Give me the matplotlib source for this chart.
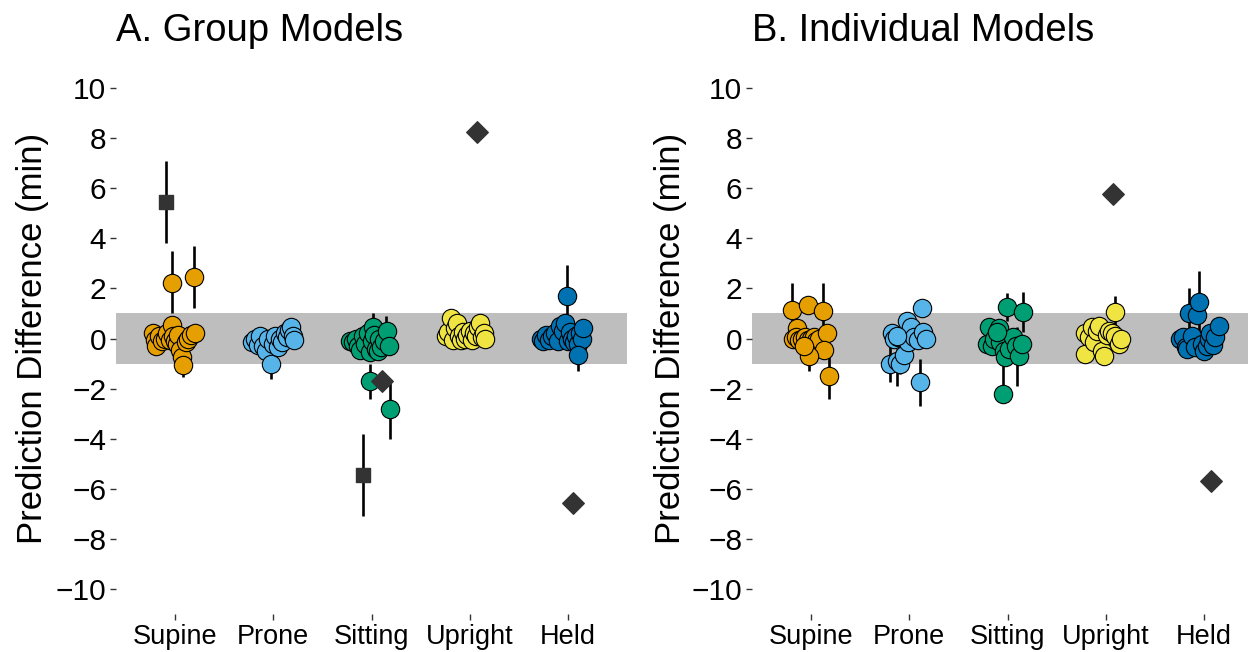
import numpy as np
import matplotlib.pyplot as plt

plt.rcParams['font.family'] = ['Liberation Sans', 'DejaVu Sans']

positions = ['Supine', 'Prone', 'Sitting', 'Upright', 'Held']
pos_colors = ['#E69F00', '#56B4E9', '#009E73', '#F0E442', '#0072B2']

# A. group models - one circle per participant (horizontal jitter, difference in min)
group_jitter = [
    [-0.22, -0.20, -0.19, -0.16, -0.13, -0.10, -0.08, -0.05, -0.03, -0.02, 0.00, 0.02, 0.03, 0.05, 0.07, 0.08, 0.11, 0.13, 0.16, 0.20, -0.03, 0.19],
    [-0.22, -0.19, -0.16, -0.13, -0.10, -0.07, -0.05, -0.02, 0.00, 0.02, 0.05, 0.07, 0.09, 0.12, 0.14, 0.16, 0.18, 0.20, 0.21],
    [-0.22, -0.19, -0.16, -0.14, -0.12, -0.09, -0.07, -0.04, -0.02, 0.00, 0.02, 0.03, 0.05, 0.07, 0.08, 0.10, 0.13, 0.16, 0.18, -0.02, 0.19],
    [-0.24, -0.22, -0.19, -0.17, -0.15, -0.13, -0.11, -0.09, -0.07, -0.05, -0.03, 0.00, 0.02, 0.04, 0.06, 0.08, 0.10, 0.12, 0.14, 0.16],
    [-0.28, -0.25, -0.22, -0.19, -0.16, -0.13, -0.10, -0.08, -0.05, -0.03, 0.00, 0.02, 0.04, 0.06, 0.08, 0.10, 0.12, 0.14, 0.15, 0.10, -0.01],
]
group_diff = [
    [0.2, -0.05, -0.3, 0.1, -0.1, 0.0, 0.2, -0.05, 0.55, 0.1, -0.1, -0.2, 0.15, -0.45, -0.75, -1.05, -0.15, 0.0, 0.15, 0.2, 2.2, 2.45],
    [-0.15, 0.0, -0.25, 0.1, -0.3, -0.5, 0.0, -1.0, -0.2, 0.1, -0.35, 0.0, -0.15, 0.2, 0.05, 0.35, 0.45, 0.1, -0.05],
    [-0.1, -0.15, 0.0, -0.3, -0.45, 0.1, -0.2, 0.2, -0.55, -0.1, 0.45, 0.15, -0.4, -0.5, 0.0, -0.35, -0.1, 0.3, -0.3, -1.7, -2.8],
    [0.1, 0.25, 0.8, -0.05, 0.4, 0.6, 0.1, -0.05, 0.25, 0.0, 0.15, 0.3, -0.05, 0.2, 0.1, 0.45, 0.6, 0.05, 0.2, 0.0],
    [0.0, -0.1, 0.15, -0.05, 0.1, 0.2, -0.1, 0.5, 0.3, 0.6, -0.1, 0.25, 0.0, -0.15, 0.1, -0.2, 0.2, 0.0, 0.4, -0.65, 1.7],
]
# visible error bars
group_bar_cat = [1, 1, 1, 2, 3, 3, 3, 3, 4, 4, 5, 5]
group_bar_jit = [-0.03, 0.19, 0.08, -0.02, -0.02, 0.19, 0.02, 0.15, -0.19, 0.10, -0.01, 0.10]
group_bar_lo = [1.0, 1.2, -1.55, -1.6, -2.4, -4.0, 0.0, 0.0, 0.5, 0.3, 0.6, -1.3]
group_bar_hi = [3.5, 3.7, -0.5, -0.5, -1.0, -1.7, 1.0, 0.9, 1.15, 0.9, 2.95, -0.3]
# squares with error bars
group_sq_cat = [1, 3]
group_sq_jit = [-0.09, -0.09]
group_sq_val = [5.45, -5.45]
group_sq_lo = [3.8, -7.1]
group_sq_hi = [7.1, -3.8]
# diamonds
group_dm_cat = [3, 4, 5]
group_dm_jit = [0.11, 0.07, 0.05]
group_dm_val = [-1.7, 8.25, -6.55]

# B. individual models
indiv_jitter = [
    [-0.19, -0.03, 0.12, -0.14, -0.18, -0.15, -0.12, -0.09, -0.06, -0.03, 0.00, 0.03, 0.05, 0.08, 0.16, 0.13, -0.02, 0.18, -0.07],
    [-0.20, -0.18, -0.16, -0.13, -0.11, -0.09, -0.06, -0.05, -0.02, -0.01, 0.02, 0.05, 0.09, 0.11, 0.13, 0.14, 0.17, -0.13],
    [-0.21, -0.19, -0.16, -0.14, -0.09, -0.08, -0.04, -0.03, 0.01, 0.06, 0.09, 0.12, 0.15, -0.01, 0.16, -0.05, -0.11],
    [-0.21, -0.21, -0.17, -0.14, -0.12, -0.09, -0.07, -0.04, -0.02, 0.01, 0.03, 0.06, 0.09, 0.13, 0.15, 0.09],
    [-0.25, -0.22, -0.19, -0.17, -0.15, -0.12, -0.09, -0.07, -0.05, -0.02, 0.00, 0.03, 0.05, 0.06, 0.09, 0.11, 0.15],
]
indiv_diff = [
    [1.15, 1.35, 1.1, 0.4, 0.0, 0.05, -0.05, 0.0, 0.05, -0.05, 0.0, 0.05, -0.1, 0.0, 0.2, -0.45, -0.7, -1.5, -0.3],
    [-1.0, 0.2, 0.0, -0.9, 0.05, -1.0, 0.1, -0.65, 0.7, -0.15, 0.45, 0.05, -0.05, -1.75, 1.2, 0.25, 0.0, 0.1],
    [-0.2, 0.45, -0.3, 0.0, 0.4, -0.15, -0.5, -0.75, -0.4, 0.05, -0.3, -0.7, -0.2, 1.25, 1.05, -2.2, 0.25],
    [0.2, -0.6, 0.05, 0.45, -0.15, 0.3, 0.5, -0.5, -0.7, 0.15, 0.3, 0.2, 0.1, -0.2, 0.0, 1.05],
    [0.0, 0.05, -0.35, -0.4, 1.0, 0.1, -0.35, 0.95, 1.45, -0.2, -0.5, -0.3, 0.0, 0.2, -0.25, 0.05, 0.5],
]
indiv_bar_cat = [1, 1, 1, 1, 2, 2, 2, 2, 3, 3, 3, 3, 4, 5, 5]
indiv_bar_jit = [-0.19, 0.12, -0.02, 0.18, -0.20, -0.13, -0.09, 0.11, -0.01, 0.16, -0.05, 0.10, 0.09, -0.05, -0.15]
indiv_bar_lo = [0.5, -0.5, -1.3, -2.4, -1.75, -1.9, -1.4, -2.7, 0.7, 0.25, -2.2, -1.9, 0.5, 0.0, -0.2]
indiv_bar_hi = [2.2, 2.2, -0.1, -0.7, -0.3, -0.4, -0.5, -0.8, 1.8, 1.85, -0.5, 0.45, 1.7, 2.7, 2.0]
indiv_dm_cat = [4, 5]
indiv_dm_jit = [0.07, 0.07]
indiv_dm_val = [5.75, -5.7]


def draw_panel(ax, title, jitter, diff, bar_cat, bar_jit, bar_lo, bar_hi,
               dm_cat, dm_jit, dm_val, sq=None, xmax=5.6):
    ax.axhspan(-1, 1, color='#BEBEBE', lw=0, zorder=0)
    bx = np.array(bar_cat) + np.array(bar_jit)
    ax.vlines(bx, bar_lo, bar_hi, color='black', lw=1.9, zorder=2)
    for i in range(len(positions)):
        x = (i + 1) + np.array(jitter[i])
        ax.scatter(x, diff[i], s=175, color=pos_colors[i], edgecolor='black',
                   linewidth=0.8, zorder=3)
    if sq is not None:
        sc, sj, sv, slo, shi = sq
        sx = np.array(sc) + np.array(sj)
        ax.vlines(sx, slo, shi, color='black', lw=1.9, zorder=2)
        ax.scatter(sx, sv, s=110, marker='s', color='#333333', zorder=4)
    ax.scatter(np.array(dm_cat) + np.array(dm_jit), dm_val, s=120, marker='D',
               color='#333333', zorder=4)

    ax.set_xlim(0.4, xmax)
    ax.set_ylim(-11, 11)
    ax.set_xticks(range(1, 6))
    ax.set_xticklabels(positions)
    ax.set_yticks(range(-10, 11, 2))
    for s in ax.spines.values():
        s.set_visible(False)
    ax.tick_params(axis='y', length=4, width=1, color='#333333', labelsize=21.5,
                   pad=3, labelcolor='black')
    ax.tick_params(axis='x', length=4, width=1, color='#333333', labelsize=19.5,
                   pad=3, labelcolor='black')
    ax.set_ylabel('Prediction Difference (min)', fontsize=25)
    ax.yaxis.set_label_coords(-0.132, 0.5)
    ax.set_title(title, loc='left', fontsize=27.5, pad=16)


fig = plt.figure(figsize=(12.48, 6.52), dpi=100)
W, H = 1248, 652
ax1 = fig.add_axes([116 / W, (652 - 614) / H, 511 / W, 551 / H])
ax2 = fig.add_axes([752 / W, (652 - 614) / H, 496 / W, 551 / H])

draw_panel(ax1, 'A. Group Models', group_jitter, group_diff,
           group_bar_cat, group_bar_jit, group_bar_lo, group_bar_hi,
           group_dm_cat, group_dm_jit, group_dm_val,
           sq=(group_sq_cat, group_sq_jit, group_sq_val, group_sq_lo, group_sq_hi))
draw_panel(ax2, 'B. Individual Models', indiv_jitter, indiv_diff,
           indiv_bar_cat, indiv_bar_jit, indiv_bar_lo, indiv_bar_hi,
           indiv_dm_cat, indiv_dm_jit, indiv_dm_val, xmax=0.4 + 496 / 98.3)

fig.savefig('out.png', dpi=100)
